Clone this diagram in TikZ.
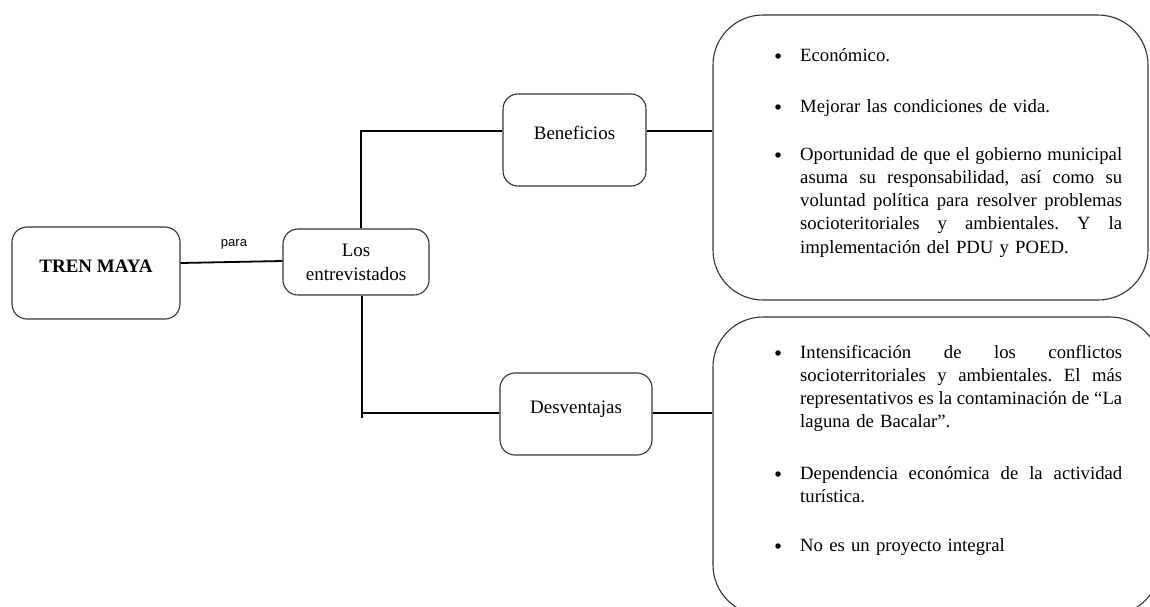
\documentclass[tikz,border=0pt]{standalone}
\usepackage{fontspec}
\setmainfont{Liberation Serif}
\newfontfamily\parasans{Liberation Sans}
\newcommand{\jl}[1]{\leavevmode\hbox to 322pt{\spaceskip=0.25em plus 3em minus 0.08em\relax #1}}
\frenchspacing
\begin{document}
\begin{tikzpicture}[x=1pt,y=-1pt,
  smallbox/.style={draw=black!80, line width=1.1pt, rounded corners=15pt, fill=white, inner sep=0pt, align=center, font=\fontsize{19}{24}\selectfont},
  boxtext/.style={font=\fontsize{19}{24}\selectfont, inner sep=0pt},
  bigbox/.style={draw=black!80, line width=1.1pt, rounded corners=50pt, inner sep=0pt},
  conn/.style={line width=1.8pt, black},
  bul/.style={circle, fill=black, inner sep=0pt, minimum size=5.5pt},
  itemtext/.style={anchor=base west, inner sep=0pt, text width=330pt, align=left, font=\fontsize{18.7}{23.3}\selectfont\frenchspacing}
]
\useasboundingbox (0,0) rectangle (1150,606);
\clip (0,0) rectangle (1150,606);
\fill[white] (0,0) rectangle (1150,606);

% big boxes
\node[bigbox, minimum width=435pt, minimum height=285pt] (bbox) at (930.5,157.5) {};
\node[bigbox, minimum width=447pt, minimum height=298pt] (dbox) at (936.5,466) {};

% small boxes
\node[smallbox, minimum width=168pt, minimum height=92pt] (tren) at (96,273) {};
\node[boxtext, font=\fontsize{19}{24}\selectfont\bfseries] (trentxt) at (96,266) {TREN MAYA};
\node[smallbox, minimum width=146pt, minimum height=66pt] (ent) at (356,262) {Los\\entrevistados};
\node[smallbox, minimum width=143pt, minimum height=92pt] (ben) at (574.5,140) {};
\node[boxtext] (bentxt) at (574.5,133) {Beneficios};
\node[smallbox, minimum width=152pt, minimum height=82pt] (des) at (576,414) {};
\node[boxtext] (destxt) at (576,409) {Desventajas};

% connectors
\coordinate (vtop) at (361,131);
\coordinate (vbot) at (362,418);
\draw[conn] (tren.east |- 0,263) -- (ent.west |- 0,261);
\node[font=\parasans\fontsize{13}{15}\selectfont] (para) at (234,244) {para};
\draw[conn] (ent.north -| vtop) -- (vtop) -- (ben.west |- vtop);
\draw[conn] (ent.south -| vbot) -- (vbot);
\draw[conn] (vbot |- 0,413) -- (des.west |- 0,413);
\draw[conn] (ben.east |- 0,131) -- (bbox.west |- 0,131);
\draw[conn] (des.east |- 0,413) -- (dbox.west |- 0,413);

% item texts, box 1
\node[bul] (bb1) at (778,56) {};
\node[itemtext] (b1) at (800,61) {Económico.};
\node[bul] (bb2) at (778,107) {};
\node[itemtext] (b2) at (800,112) {Mejorar las condiciones de vida.};
\node[bul] (bb3) at (778,155) {};
\node[itemtext] (b3) at (800,160) {\jl{Oportunidad de que el gobierno municipal}\\\jl{asuma su responsabilidad, así como su}\\\jl{voluntad política para resolver problemas}\\\jl{socioteritoriales y ambientales. Y la}\\implementación del PDU y POED.};

% item texts, box 2
\node[bul] (dd1) at (778,353) {};
\node[itemtext] (d1) at (800,358) {\jl{Intensificación de los conflictos}\\\jl{socioterritoriales y ambientales. El más}\\\jl{representativos es la contaminación de ``La}\\laguna de Bacalar''.};
\node[bul] (dd2) at (778,474) {};
\node[itemtext] (d2) at (800,479) {\jl{Dependencia económica de la actividad}\\turística.};
\node[bul] (dd3) at (778,546) {};
\node[itemtext] (d3) at (800,551) {No es un proyecto integral};
\end{tikzpicture}
\end{document}
